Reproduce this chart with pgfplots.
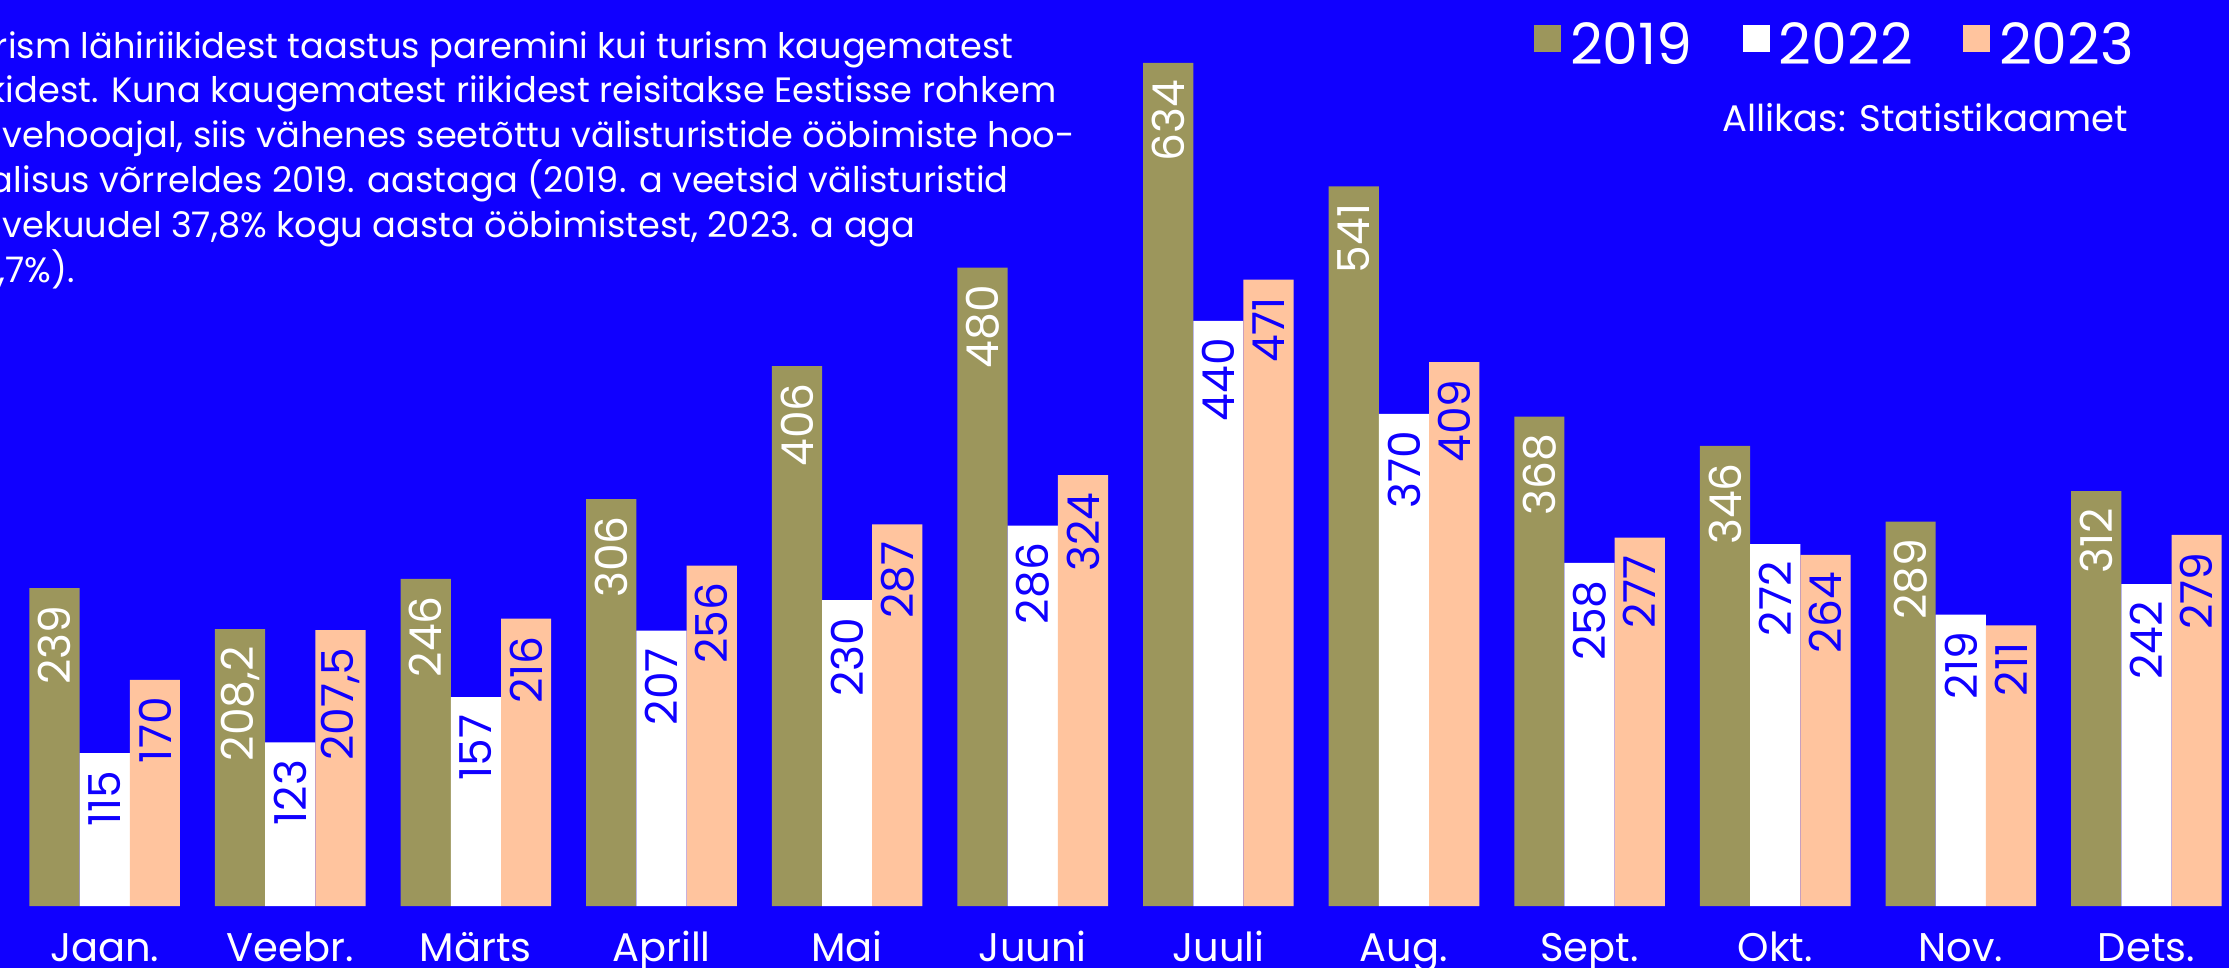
\documentclass[border=0pt]{standalone}
\usepackage{fontspec}
\setmainfont{Poppins}
\usepackage{pgfplots}
\usepackage{pgfplotstable}
\pgfplotsset{compat=1.18}
\definecolor{bgblue}{HTML}{1000FF}
\definecolor{barolive}{HTML}{9C965C}
\definecolor{barpeach}{HTML}{FFC49E}

\pgfplotstableread{
x y19 y22 y23
0 239 115 170
1 208.2 123 207.5
2 246 157 216
3 306 207 256
4 406 230 287
5 480 286 324
6 634 440 471
7 541 370 409
8 368 258 277
9 346 272 264
10 289 219 211
11 312 242 279
}\datatable

\begin{document}
\begin{tikzpicture}
\useasboundingbox (0,0) rectangle (1114.5pt,484pt);
\clip (0,0) rectangle (1114.5pt,484pt);
\fill[bgblue] (0,0) rectangle (1114.5pt,484pt);
\begin{axis}[
  at={(0,0)}, anchor=south west,
  scale only axis, width=1114.5pt, height=484pt,
  xmin=-0.564, xmax=11.445, ymin=-46.6, ymax=681.2,
  clip=false,
  axis line style={draw=none},
  major tick length=0pt,
  ytick=\empty,
  xtick={0,...,11},
  xticklabels={Jaan.,Veebr.,Märts,Aprill,Mai,Juuni,Juuli,Aug.,Sept.,Okt.,Nov.,Dets.},
  xticklabel style={anchor=base, yshift=3pt, font=\fontsize{20}{24}\selectfont, text=white},
  ybar=0pt, bar width=25.1pt,
  nodes near coords,
  every node near coord/.append style={rotate=90, anchor=east, inner xsep=8.5pt, font=\fontsize{22}{26}\selectfont},
  /pgf/number format/use comma,
  /pgf/number format/fixed,
  /pgf/number format/precision=1,
  /pgf/number format/1000 sep={},
  /pgf/number format/assume math mode=true,
  legend columns=3,
  legend image code/.code={\fill[#1] (0pt,-3.5pt) rectangle (13.5pt,10pt); \path (16pt,0pt);},
  legend style={at={(axis description cs:0.962,0.985)}, anchor=north east,
    draw=none, fill=none, text=white, font=\fontsize{28.5}{34}\selectfont,
    /tikz/every even column/.append style={column sep=23pt}},
]
\addplot[fill=barolive, draw=none, every node near coord/.append style={text=white}] table[x=x, y=y19] {\datatable};
\addplot[fill=white, draw=none, every node near coord/.append style={text=bgblue}] table[x=x, y=y22] {\datatable};
\addplot[fill=barpeach, draw=none, every node near coord/.append style={text=bgblue}] table[x=x, y=y23] {\datatable};
\legend{2019,2022,2023}
\end{axis}
\begin{scope}[every node/.style={anchor=base west, text=white, font=\fontsize{17.6}{22}\selectfont, inner sep=0pt}]
\node at (-23.5pt,454.5pt) {Turism lähiriikidest taastus paremini kui turism kaugematest};
\node at (-21.5pt,432.5pt) {riikidest. Kuna kaugematest riikidest reisitakse Eestisse rohkem};
\node at (-21.5pt,410pt) {talvehooajal, siis vähenes seetõttu välisturistide ööbimiste hoo-};
\node at (-21.5pt,387.5pt) {ajalisus võrreldes 2019. aastaga (2019. a veetsid välisturistid};
\node at (-21.5pt,365pt) {talvekuudel 37,8\% kogu aasta ööbimistest, 2023. a aga};
\node at (-21.5pt,342.5pt) {32,7\%).};
\end{scope}
\node[anchor=base east, text=white, font=\fontsize{18.5}{22}\selectfont, inner sep=0pt] at (1064pt,418pt) {Allikas: Statistikaamet};
\end{tikzpicture}
\end{document}
